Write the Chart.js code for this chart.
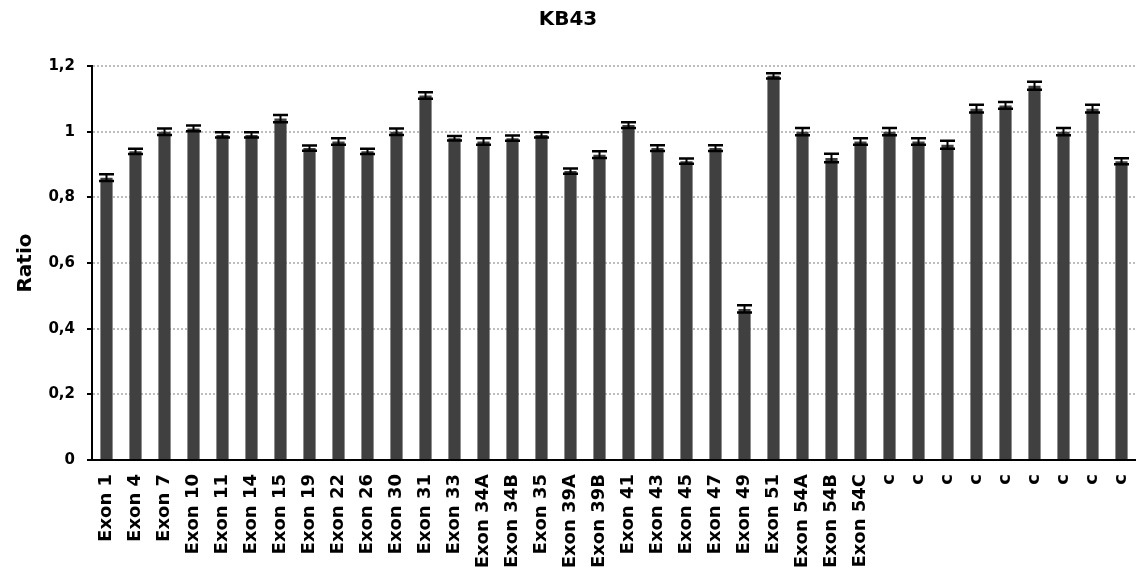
<!DOCTYPE html>
<html>
<head>
<meta charset="utf-8">
<script src="https://cdn.jsdelivr.net/npm/chart.js@4"></script>
<style>
  html, body { margin: 0; padding: 0; background: #fff; }
  #wrap { width: 1136px; height: 568px; }
</style>
</head>
<body>
<div id="wrap"><canvas id="c"></canvas></div>
<script>
// Amplicon names along the x axis
const categories = [
  'Exon 1', 'Exon 4', 'Exon 7', 'Exon 10', 'Exon 11', 'Exon 14', 'Exon 15', 'Exon 19',
  'Exon 22', 'Exon 26', 'Exon 30', 'Exon 31', 'Exon 33', 'Exon 34A', 'Exon 34B', 'Exon 35',
  'Exon 39A', 'Exon 39B', 'Exon 41', 'Exon 43', 'Exon 45', 'Exon 47', 'Exon 49', 'Exon 51',
  'Exon 54A', 'Exon 54B', 'Exon 54C', 'c', 'c', 'c', 'c', 'c', 'c', 'c', 'c', 'c'
];

// Mean dosage ratio per amplicon
const ratios = [
  0.86, 0.94, 1.00, 1.01, 0.99, 0.99, 1.04, 0.95,
  0.97, 0.94, 1.00, 1.11, 0.98, 0.97, 0.98, 0.99,
  0.88, 0.93, 1.02, 0.95, 0.91, 0.95, 0.46, 1.17,
  1.00, 0.92, 0.97, 1.00, 0.97, 0.96, 1.07, 1.08, 1.14, 1.00, 1.07, 0.91
];

// Error (± half range) per amplicon
const errors = [
  0.010, 0.008, 0.010, 0.009, 0.008, 0.008, 0.011, 0.008,
  0.010, 0.008, 0.010, 0.010, 0.007, 0.010, 0.008, 0.008,
  0.008, 0.010, 0.009, 0.009, 0.008, 0.009, 0.011, 0.008,
  0.011, 0.013, 0.010, 0.011, 0.010, 0.012, 0.012, 0.010, 0.012, 0.011, 0.012, 0.009
];

// Y axis tick labels (decimal comma)
const yTickLabels = ['0', '0,2', '0,4', '0,6', '0,8', '1', '1,2'];

const chartTitle = 'KB43';
const yAxisTitle = 'Ratio';

const FONT = '"DejaVu Sans", sans-serif';

// Draws the error whiskers on top of each bar using the y scale
const errorBars = {
  id: 'errorBars',
  afterDatasetsDraw(chart) {
    const ctx = chart.ctx;
    const y = chart.scales.y;
    const meta = chart.getDatasetMeta(0);
    ctx.save();
    ctx.strokeStyle = '#000';
    meta.data.forEach((bar, i) => {
      const x = bar.x;
      const yHi = y.getPixelForValue(ratios[i] + errors[i]);
      const yLo = y.getPixelForValue(ratios[i] - errors[i]);
      const half = 7.5;
      ctx.lineWidth = 2;
      ctx.beginPath();
      ctx.moveTo(x, yHi);
      ctx.lineTo(x, yLo);
      ctx.stroke();
      ctx.lineWidth = 2.5;
      ctx.beginPath();
      ctx.moveTo(x - half, yHi);
      ctx.lineTo(x + half, yHi);
      ctx.moveTo(x - half, yLo);
      ctx.lineTo(x + half, yLo);
      ctx.stroke();
    });
    ctx.restore();
  }
};

new Chart(document.getElementById('c'), {
  type: 'bar',
  data: {
    labels: categories,
    datasets: [{
      data: ratios,
      backgroundColor: '#404040',
      borderWidth: 0,
      barPercentage: 0.42,
      categoryPercentage: 1.0
    }]
  },
  options: {
    responsive: true,
    maintainAspectRatio: false,
    animation: false,
    devicePixelRatio: 1,
    layout: { padding: { left: 0, right: 0, top: 0, bottom: 0 } },
    plugins: {
      legend: { display: false },
      tooltip: { enabled: false },
      title: {
        display: true,
        text: chartTitle,
        color: '#000',
        font: { family: FONT, size: 20, weight: 'bold' },
        padding: { top: 8, bottom: 34 }
      }
    },
    scales: {
      x: {
        grid: { display: false },
        border: { display: true, color: '#000', width: 2 },
        ticks: {
          autoSkip: false,
          minRotation: 90,
          maxRotation: 90,
          padding: 6,
          color: '#000',
          font: { family: FONT, size: 18, weight: 'bold' }
        },
        afterFit(scale) {
          scale.height = 108;
          scale.paddingLeft = 0;
          scale.paddingRight = 0;
        }
      },
      y: {
        min: 0,
        max: 1.2,
        ticks: {
          stepSize: 0.2,
          padding: 12,
          color: '#000',
          font: { family: FONT, size: 15, weight: 'bold' },
          callback: (v, i) => yTickLabels[i]
        },
        grid: {
          color: '#bdbdbd',
          lineWidth: 2,
          drawTicks: true,
          tickLength: 5,
          tickColor: '#000',
          tickWidth: 2,
          tickBorderDash: [1, 0]
        },
        border: { display: true, color: '#000', width: 2, dash: [2, 2] },
        title: {
          display: true,
          text: yAxisTitle,
          color: '#000',
          font: { family: FONT, size: 20, weight: 'bold' },
          padding: { top: 14, bottom: 0 }
        },
        afterFit(scale) { scale.width = 92; }
      }
    }
  },
  plugins: [errorBars]
});
</script>
</body>
</html>
